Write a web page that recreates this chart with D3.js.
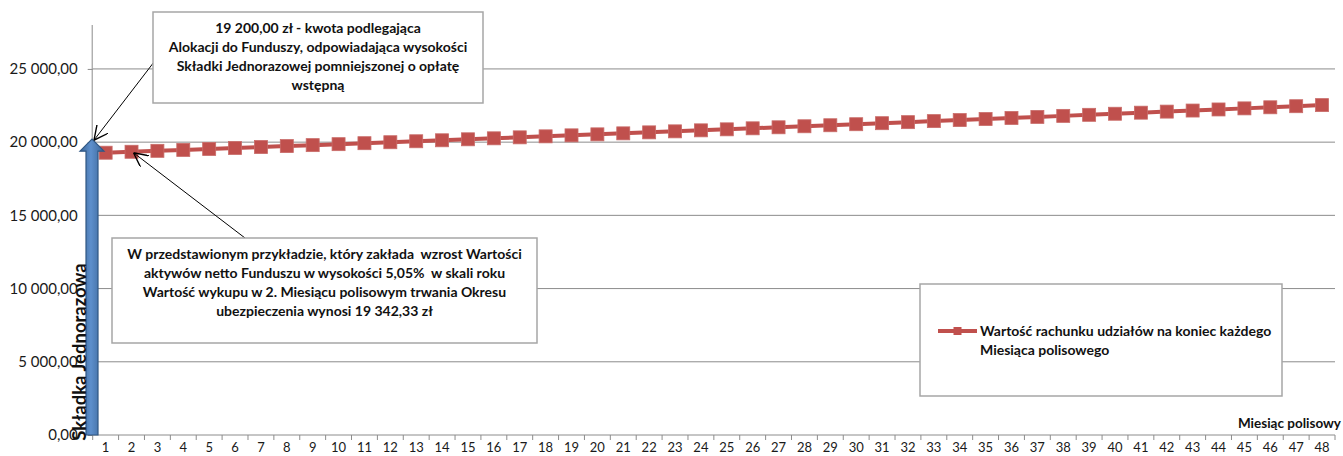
<!DOCTYPE html>
<html>
<head>
<style>
  body {
    margin: 0;
    background-color: #ffffff;
  }

  .container {
    width: 1343px;
    height: 456px;
    display: block;
  }

  text {
    font-family: Lato, "Open Sans", sans-serif;
    fill: #1a1a1a;
  }

  .note {
    font-weight: bold;
    font-size: 14px;
    white-space: pre;
    fill: #111;
  }
</style>
  <script src="https://d3js.org/d3.v7.min.js"></script>
</head>
<body>
<script>
// month numbers on the category axis
const months = d3.range(1, 49);

// account value at the end of each policy month
const accountValues = [
  19278, 19342, 19406, 19470, 19535, 19600, 19665, 19730, 19796, 19862,
  19928, 19994, 20060, 20127, 20194, 20261, 20328, 20396, 20464, 20532,
  20600, 20668, 20737, 20806, 20875, 20944, 21014, 21084, 21154, 21224,
  21294, 21365, 21436, 21507, 21578, 21650, 21722, 21794, 21866, 21939,
  22012, 22085, 22158, 22232, 22306, 22380, 22454, 22529
];

const yTicks = [0, 5000, 10000, 15000, 20000, 25000];
const yMax = 28000;

// single premium shown as the blue arrow
const premium = 20000;

const seriesName = ['Wartość rachunku udziałów na koniec każdego', 'Miesiąca polisowego'];
const xTitle = 'Miesiąc polisowy';
const yTitle = 'Składka Jednorazowa';

const noteTop = [
  '19 200,00 zł - kwota podlegająca',
  'Alokacji do Funduszy, odpowiadająca wysokości',
  'Składki Jednorazowej pomniejszonej o opłatę',
  'wstępną'
];

const noteBottom = [
  'W przedstawionym przykładzie, który zakłada  wzrost Wartości',
  'aktywów netto Funduszu w wysokości 5,05%  w skali roku',
  'Wartość wykupu w 2. Miesiącu polisowym trwania Okresu',
  'ubezpieczenia wynosi 19 342,33 zł'
];

const data = months.map((m, i) => ({ month: m, value: accountValues[i] }));

const width = 1343;
const height = 456;
const plot = { left: 92.7, right: 1335, top: 25, bottom: 435 };

const red = '#C0504D';
const gridColor = '#8c8c8c';

const svg = d3.select('body')
  .append('svg')
  .attr('class', 'container')
  .attr('viewBox', `0 0 ${width} ${height}`);

const x = d3.scaleBand()
  .domain(months)
  .range([plot.left, plot.right]);

const y = d3.scaleLinear()
  .domain([0, yMax])
  .range([plot.bottom, plot.top]);

const plLocale = d3.formatLocale({ decimal: ',', thousands: ' ', grouping: [3], currency: ['', ' zł'] });
const fmt = plLocale.format(',.2f');

// gridlines
svg.append('g')
  .selectAll('line')
  .data(yTicks.filter(d => d > 0))
  .join('line')
  .attr('x1', plot.left)
  .attr('x2', plot.right)
  .attr('y1', d => y(d))
  .attr('y2', d => y(d))
  .attr('stroke', gridColor)
  .attr('stroke-width', 1);

// y axis
const yAxis = svg.append('g')
  .attr('transform', `translate(${plot.left},0)`)
  .call(d3.axisLeft(y).tickValues(yTicks).tickFormat(fmt).tickSize(5).tickPadding(10))
  .call(g => g.select('.domain').attr('stroke', gridColor).attr('d', `M-0.5,${plot.top}V${plot.bottom}`));

yAxis.selectAll('.tick line').attr('stroke', gridColor);
yAxis.selectAll('.tick text')
  .attr('font-family', 'Lato, sans-serif')
  .attr('font-size', 15)
  .attr('fill', '#1a1a1a');

// x axis: line, ticks between categories, labels at centres
svg.append('line')
  .attr('x1', plot.left)
  .attr('x2', plot.right)
  .attr('y1', y(0))
  .attr('y2', y(0))
  .attr('stroke', gridColor);

const boundaries = months.map(m => x(m)).concat([plot.right]);

svg.append('g')
  .selectAll('line')
  .data(boundaries)
  .join('line')
  .attr('x1', d => d)
  .attr('x2', d => d)
  .attr('y1', y(0))
  .attr('y2', y(0) + 5)
  .attr('stroke', gridColor);

svg.append('g')
  .selectAll('text')
  .data(months)
  .join('text')
  .attr('x', d => x(d) + x.bandwidth() / 2)
  .attr('y', 452)
  .attr('text-anchor', 'middle')
  .style('font-size', '13px')
  .text(d => d);

svg.append('text')
  .attr('class', 'note')
  .style('font-size', '13.5px')
  .attr('x', 1341)
  .attr('y', 428)
  .attr('text-anchor', 'end')
  .text(xTitle);

// series line and markers
const line = d3.line()
  .x(d => x(d.month) + x.bandwidth() / 2)
  .y(d => y(d.value));

svg.append('path')
  .datum(data)
  .attr('fill', 'none')
  .attr('stroke', red)
  .attr('stroke-width', 4)
  .attr('d', line);

const markerSize = 13;
svg.append('g')
  .selectAll('rect')
  .data(data)
  .join('rect')
  .attr('x', d => x(d.month) + x.bandwidth() / 2 - markerSize / 2)
  .attr('y', d => y(d.value) - markerSize / 2)
  .attr('width', markerSize)
  .attr('height', markerSize)
  .attr('fill', red)
  .attr('stroke', '#c96c69')
  .attr('stroke-width', 0.8);

// blue arrow for the single premium
const defs = svg.append('defs');
const grad = defs.append('linearGradient')
  .attr('id', 'shaft')
  .attr('x1', '0%').attr('x2', '100%')
  .attr('y1', '0%').attr('y2', '0%');
grad.append('stop').attr('offset', '0%').attr('stop-color', '#3b6597');
grad.append('stop').attr('offset', '45%').attr('stop-color', '#5d8fcc');
grad.append('stop').attr('offset', '100%').attr('stop-color', '#3b6597');

const ax = plot.left - 0.7;
const tipY = y(premium) - 3;
const headH = 12;
const shaftW = 6;
const headW = 12;
const arrowPath = d3.path();
arrowPath.moveTo(ax - shaftW, y(0));
arrowPath.lineTo(ax - shaftW, tipY + headH);
arrowPath.lineTo(ax - headW, tipY + headH);
arrowPath.lineTo(ax, tipY);
arrowPath.lineTo(ax + headW, tipY + headH);
arrowPath.lineTo(ax + shaftW, tipY + headH);
arrowPath.lineTo(ax + shaftW, y(0));
arrowPath.closePath();

svg.append('path')
  .attr('d', arrowPath.toString())
  .attr('fill', 'url(#shaft)')
  .attr('stroke', '#2f5784')
  .attr('stroke-width', 1.2);

svg.append('text')
  .attr('class', 'note')
  .style('font-size', '18.5px')
  .attr('transform', `translate(86,352) rotate(-90)`)
  .attr('text-anchor', 'middle')
  .text(yTitle);

// callouts
defs.append('marker')
  .attr('id', 'open')
  .attr('viewBox', '0 0 10 10')
  .attr('refX', 10).attr('refY', 5)
  .attr('markerWidth', 14).attr('markerHeight', 14)
  .attr('markerUnits', 'userSpaceOnUse')
  .attr('orient', 'auto')
  .append('path')
  .attr('d', 'M0,0L10,5L0,10')
  .attr('fill', 'none')
  .attr('stroke', '#000')
  .attr('stroke-width', 1);

const drawNote = (lines, box, lineH, firstY) => {
  svg.append('rect')
    .attr('x', box.x)
    .attr('y', box.y)
    .attr('width', box.w)
    .attr('height', box.h)
    .attr('fill', '#fff')
    .attr('stroke', '#a6a6a6')
    .attr('stroke-width', 1.5);

  svg.append('g')
    .selectAll('text')
    .data(lines)
    .join('text')
    .attr('class', 'note')
    .attr('x', box.x + box.w / 2)
    .attr('y', (d, i) => firstY + i * lineH)
    .attr('text-anchor', 'middle')
    .text(d => d);
};

// leader lines first, boxes on top
svg.append('line')
  .attr('x1', 154).attr('y1', 62)
  .attr('x2', ax + 2).attr('y2', tipY + 1)
  .attr('stroke', '#000')
  .attr('stroke-width', 1)
  .attr('marker-end', 'url(#open)');

const m2 = data[1];
svg.append('line')
  .attr('x1', 245).attr('y1', 238)
  .attr('x2', x(m2.month) + x.bandwidth() / 2 + 2).attr('y2', y(m2.value) + 1)
  .attr('stroke', '#000')
  .attr('stroke-width', 1)
  .attr('marker-end', 'url(#open)');

drawNote(noteTop, { x: 153, y: 12, w: 330, h: 91 }, 19, 33);
drawNote(noteBottom, { x: 112, y: 238, w: 425, h: 105 }, 19, 259);

// legend
svg.append('rect')
  .attr('x', 920)
  .attr('y', 284)
  .attr('width', 362)
  .attr('height', 112)
  .attr('fill', '#fff')
  .attr('stroke', '#a6a6a6')
  .attr('stroke-width', 1.5);

svg.append('line')
  .attr('x1', 938).attr('x2', 977)
  .attr('y1', 331).attr('y2', 331)
  .attr('stroke', red)
  .attr('stroke-width', 4);

svg.append('rect')
  .attr('x', 957.5 - 4).attr('y', 331 - 4)
  .attr('width', 8).attr('height', 8)
  .attr('fill', red);

svg.append('g')
  .selectAll('text')
  .data(seriesName)
  .join('text')
  .attr('class', 'note')
  .attr('x', 980)
  .attr('y', (d, i) => 336 + i * 19)
  .text(d => d);
</script>
</body>
</html>
